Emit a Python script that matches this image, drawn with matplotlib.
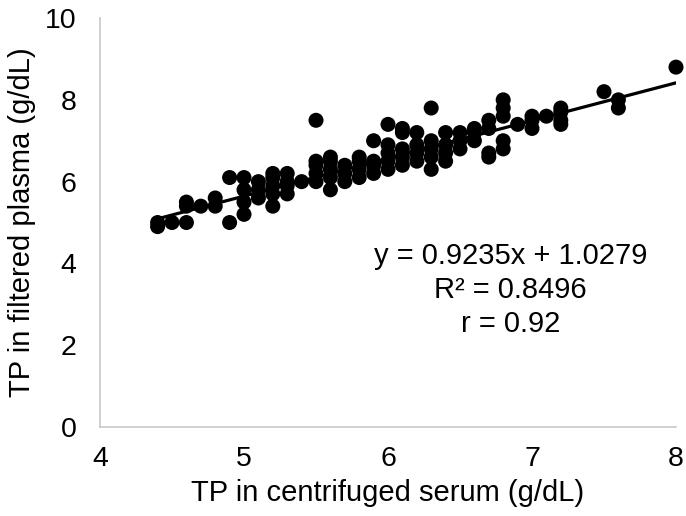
import matplotlib
matplotlib.use("Agg")
import matplotlib.pyplot as plt
import numpy as np

plt.rcParams['font.family'] = ['Liberation Sans', 'DejaVu Sans']

# Data: (centrifuged serum, filtered plasma) in g/dL
serum = [4.4, 4.4, 4.5, 4.6, 4.6, 4.6, 4.7, 4.8, 4.8, 4.9, 4.9,
         5.0, 5.0, 5.0, 5.0, 5.1, 5.1, 5.1, 5.2, 5.2, 5.2, 5.2, 5.2,
         5.3, 5.3, 5.3, 5.3, 5.4, 5.5, 5.5, 5.5, 5.5, 5.5,
         5.6, 5.6, 5.6, 5.6, 5.6, 5.7, 5.7, 5.7, 5.8, 5.8, 5.8, 5.8,
         5.9, 5.9, 5.9, 5.9, 6.0, 6.0, 6.0, 6.0, 6.0,
         6.1, 6.1, 6.1, 6.1, 6.1, 6.2, 6.2, 6.2, 6.2,
         6.3, 6.3, 6.3, 6.3, 6.3, 6.4, 6.4, 6.4, 6.4,
         6.5, 6.5, 6.5, 6.6, 6.6, 6.6, 6.7, 6.7, 6.7, 6.7,
         6.8, 6.8, 6.8, 6.8, 6.8, 6.9, 7.0, 7.0, 7.0, 7.1,
         7.2, 7.2, 7.2, 7.2, 7.5, 7.6, 7.6, 8.0]
plasma = [4.9, 5.0, 5.0, 5.0, 5.4, 5.5, 5.4, 5.4, 5.6, 5.0, 6.1,
          5.2, 5.5, 5.8, 6.1, 5.6, 5.8, 6.0, 5.4, 5.7, 5.9, 6.1, 6.2,
          5.7, 5.9, 6.0, 6.2, 6.0, 6.0, 6.2, 6.4, 6.5, 7.5,
          5.8, 6.1, 6.3, 6.5, 6.6, 6.0, 6.2, 6.4, 6.1, 6.3, 6.5, 6.6,
          6.2, 6.4, 6.5, 7.0, 6.3, 6.5, 6.7, 6.9, 7.4,
          6.4, 6.6, 6.8, 7.2, 7.3, 6.5, 6.7, 6.9, 7.2,
          6.3, 6.6, 6.8, 7.0, 7.8, 6.5, 6.7, 6.9, 7.2,
          6.8, 7.0, 7.2, 7.0, 7.2, 7.3, 6.6, 6.7, 7.3, 7.5,
          6.8, 7.0, 7.6, 7.8, 8.0, 7.4, 7.3, 7.5, 7.6, 7.6,
          7.4, 7.5, 7.7, 7.8, 8.2, 7.8, 8.0, 8.8]

slope = 0.9235
intercept = 1.0279
r2_text = "0.8496"
r_text = "0.92"

x_ticks = [4, 5, 6, 7, 8]
y_ticks = [0, 2, 4, 6, 8, 10]

fig = plt.figure(figsize=(6.86, 5.16), dpi=100)
ax = fig.add_axes([0.1458, 0.1725, 0.8396, 0.7925])

ax.scatter(serum, plasma, s=117, color='black', edgecolors='none', zorder=3, clip_on=False)

xl = np.array([min(serum), max(serum)])
ax.plot(xl, slope * xl + intercept, color='black', linewidth=2.3, zorder=2)

ax.set_xlim(4, 8)
ax.set_ylim(0, 10)
ax.set_xticks(x_ticks)
ax.set_yticks(y_ticks)
ax.tick_params(axis='both', length=0, labelsize=20.5, colors='black')
ax.tick_params(axis='x', pad=14)
ax.tick_params(axis='y', pad=17)

for side in ['top', 'right']:
    ax.spines[side].set_visible(False)
for side in ['left', 'bottom']:
    ax.spines[side].set_color('#c8c8c8')
    ax.spines[side].set_linewidth(1.2)

ax.set_xlabel('TP in centrifuged serum (g/dL)', fontsize=21, labelpad=5)
ax.set_ylabel('TP in filtered plasma (g/dL)', fontsize=21, labelpad=6)

ax.text(6.85, 3.35,
        f"y = {slope}x + {intercept}\nR² = {r2_text}\nr = {r_text}",
        ha='center', va='center', fontsize=21, linespacing=1.28)

fig.savefig('out.png', dpi=100)
